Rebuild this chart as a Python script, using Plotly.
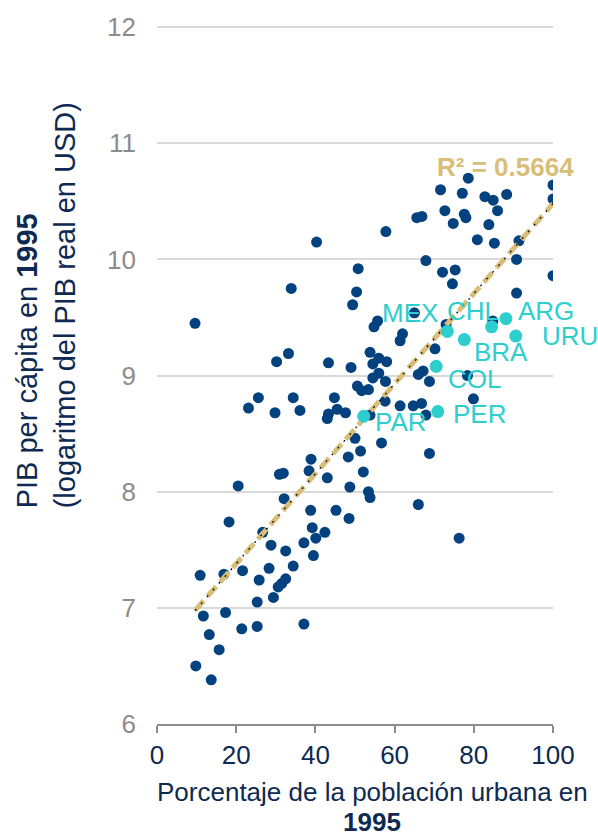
import plotly.graph_objects as go
import numpy as np

# urban population share (%) and log real GDP per capita, 1995
urban_pct = [
    40.3, 33.9, 50.8, 50.4, 49.4, 9.6, 78.6, 71.6, 77.1, 82.8,
    84.9, 88.3, 100, 100, 72.7, 77.6, 78.0, 86.0, 65.6, 66.9,
    74.8, 83.8, 57.8, 80.9, 85.2, 91.4, 67.9, 90.8, 72.1, 75.3,
    74.6, 100, 90.8, 65.0, 55.7, 54.8, 84.8, 73.0, 62.0, 61.4,
    70.2, 53.8, 56.0, 58.0, 54.5, 30.2, 33.2, 43.3, 49.0, 66.0,
    67.2, 68.8, 56.0, 54.5, 57.7, 50.6, 53.4, 51.7, 78.4, 79.9,
    25.6, 23.1, 34.4, 29.8, 36.1, 44.8, 43.3, 43.0, 45.5, 47.6,
    57.6, 61.4, 64.7, 66.8, 67.9, 53.8, 38.9, 38.4, 30.9, 31.9,
    43.0, 48.3, 50.0, 51.4, 48.7, 20.5, 32.1, 56.7, 68.8, 52.1,
    53.4, 53.8, 66.0, 76.3, 18.2, 26.7, 28.8, 32.5, 34.4, 28.3,
    21.6, 16.9, 10.9, 25.8, 32.5, 31.5, 30.6, 29.4, 25.3, 11.7,
    17.3, 21.4, 25.3, 37.1, 13.2, 15.7, 9.8, 13.7, 38.8, 45.2,
    48.5, 39.2, 40.1, 42.4, 37.1, 39.5,
]
log_gdp = [
    10.15, 9.75, 9.92, 9.72, 9.61, 9.45, 10.70, 10.60, 10.57, 10.54,
    10.51, 10.56, 10.64, 10.52, 10.42, 10.39, 10.36, 10.42, 10.36, 10.37,
    10.31, 10.30, 10.24, 10.17, 10.14, 10.16, 9.99, 10.00, 9.89, 9.91,
    9.79, 9.86, 9.71, 9.54, 9.47, 9.42, 9.47, 9.44, 9.36, 9.30,
    9.23, 9.20, 9.15, 9.12, 9.10, 9.12, 9.19, 9.11, 9.07, 9.01,
    9.04, 8.95, 9.02, 8.98, 8.95, 8.91, 8.88, 8.87, 9.00, 8.80,
    8.81, 8.72, 8.81, 8.68, 8.70, 8.81, 8.67, 8.63, 8.71, 8.68,
    8.78, 8.74, 8.74, 8.76, 8.66, 8.66, 8.28, 8.18, 8.15, 8.16,
    8.12, 8.30, 8.46, 8.35, 8.04, 8.05, 7.94, 8.42, 8.33, 8.17,
    8.00, 7.95, 7.89, 7.60, 7.74, 7.65, 7.54, 7.49, 7.36, 7.34,
    7.32, 7.29, 7.28, 7.24, 7.25, 7.21, 7.18, 7.09, 7.05, 6.93,
    6.96, 6.82, 6.84, 6.86, 6.77, 6.64, 6.50, 6.38, 7.84, 7.84,
    7.77, 7.69, 7.60, 7.65, 7.56, 7.45,
]

# highlighted Latin American countries
latam_codes = ["MEX", "CHL", "ARG", "URU", "BRA", "COL", "PER", "PAR"]
latam_urban = [73.3, 84.5, 88.1, 90.6, 77.6, 70.5, 70.9, 52.2]
latam_gdp = [9.38, 9.42, 9.49, 9.34, 9.31, 9.08, 8.69, 8.65]

# linear trendline as shown on the chart
trend_slope = 0.03875
trend_intercept = 6.605
r2_text = "R² = 0.5664"

# label offsets in pixels (right, up)
label_shift = {
    "MEX": (-37, 18), "CHL": (-19, 16), "ARG": (40, 8), "URU": (54, 0),
    "BRA": (37, -12), "COL": (38, -13), "PER": (42, -2), "PAR": (37, -6),
}

NAVY = "#0E2A52"
DARK = "#03427F"
CYAN = "#2ECECE"
TAN = "#D8BE78"
FONT = "Arial, Liberation Sans, sans-serif"

trend_x = np.array([min(urban_pct), max(urban_pct)])
trend_y = trend_slope * trend_x + trend_intercept

fig = go.Figure()

fig.add_trace(go.Scatter(
    x=urban_pct, y=log_gdp, mode="markers",
    marker=dict(color=DARK, size=11),
    showlegend=False, hoverinfo="x+y"
))

# dashed gold trendline with a fine black dotted line on top
fig.add_trace(go.Scatter(
    x=trend_x, y=trend_y, mode="lines",
    line=dict(color=TAN, width=5, dash="13px,6px"),
    showlegend=False, hoverinfo="skip"
))
fig.add_trace(go.Scatter(
    x=trend_x, y=trend_y, mode="lines",
    line=dict(color="black", width=1.2, dash="2px,7px"),
    showlegend=False, hoverinfo="skip"
))

fig.add_trace(go.Scatter(
    x=latam_urban, y=latam_gdp, mode="markers",
    marker=dict(color=CYAN, size=13),
    text=latam_codes, showlegend=False, hoverinfo="text+x+y"
))

for code, ux, gy in zip(latam_codes, latam_urban, latam_gdp):
    dx, dy = label_shift[code]
    fig.add_annotation(
        x=ux, y=gy, text=code, showarrow=False,
        xshift=dx, yshift=dy,
        font=dict(family=FONT, size=26, color=CYAN)
    )

fig.add_annotation(
    x=88.1, y=10.8, text=f"<b>{r2_text}</b>", showarrow=False,
    font=dict(family=FONT, size=26, color=TAN)
)

# axis titles
fig.add_annotation(
    xref="paper", yref="paper", x=0.543, y=-0.097,
    xanchor="center", yanchor="middle",
    text="Porcentaje de la población urbana en",
    showarrow=False, font=dict(family=FONT, size=26, color=NAVY)
)
fig.add_annotation(
    xref="paper", yref="paper", x=0.543, y=-0.1405,
    xanchor="center", yanchor="middle",
    text="<b>1995</b>",
    showarrow=False, font=dict(family=FONT, size=26, color=NAVY)
)
fig.add_annotation(
    xref="paper", yref="paper", x=-0.28, y=0.6,
    xanchor="center", yanchor="middle", textangle=-90, align="left",
    text="PIB per cápita en <b>1995</b><br>(logaritmo del PIB real en USD)",
    showarrow=False, font=dict(family=FONT, size=29, color=NAVY)
)

fig.update_layout(
    width=598, height=838,
    margin=dict(l=157, r=45, t=22, b=114),
    plot_bgcolor="white", paper_bgcolor="white",
    font=dict(family=FONT),
    xaxis=dict(
        range=[0, 100], dtick=20, showgrid=False, zeroline=False,
        showline=True, linecolor="#8C8C8C", linewidth=2,
        ticks="outside", ticklen=7, tickwidth=2, tickcolor="#8C8C8C",
        tickfont=dict(size=26, color=NAVY)
    ),
    yaxis=dict(
        range=[6, 12.01], tick0=6, dtick=1, showgrid=True,
        gridcolor="#D9D9D9", gridwidth=1.5, zeroline=False, showline=False,
        ticklabelstandoff=20,
        tickfont=dict(size=26, color="#8C8C8C")
    ),
)

# drop the default page margin so the figure sits at the window corner
fig.write_html(
    "out.html",
    config={"displayModeBar": False},
    post_script="document.body.style.margin = '0';",
)
